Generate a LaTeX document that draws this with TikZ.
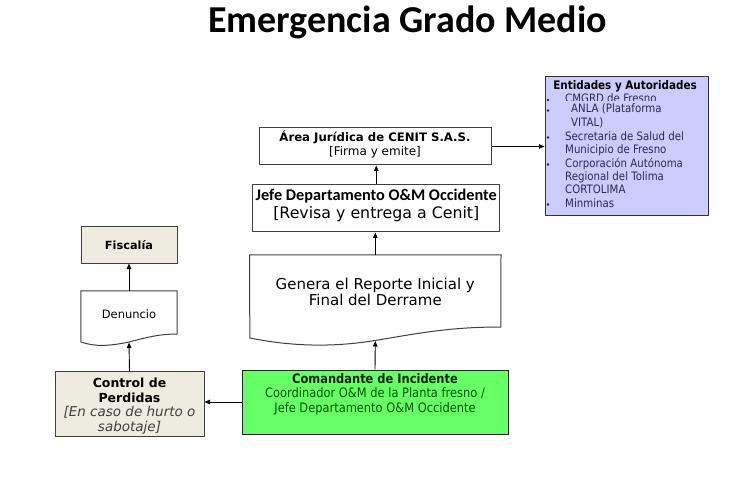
\documentclass[tikz,border=0pt]{standalone}
\usepackage{fontspec}
\setmainfont{DejaVu Sans}
\newfontfamily\tahfont{DejaVu Sans}[FakeStretch=0.88]
\newfontfamily\calfont{Carlito}
\usetikzlibrary{arrows.meta}
\definecolor{entfill}{HTML}{CCCCFF}
\definecolor{grfill}{HTML}{66FF66}
\definecolor{beige}{HTML}{EEECE1}
\definecolor{frame}{HTML}{404040}
\definecolor{listc}{HTML}{2A2A55}
\definecolor{grtxt}{HTML}{005500}
\definecolor{grhead}{HTML}{002200}
\definecolor{ittxt}{HTML}{404040}
\begin{document}
\begin{tikzpicture}[x=1pt,y=-1pt,
  box/.style={draw=frame, line width=1pt, inner sep=0pt},
  plain/.style={inner sep=0pt},
  txt/.style={inner sep=0pt, align=center},
  arr/.style={-{Triangle[length=5.5pt,width=4.5pt]}, line width=0.9pt, black},
  item/.style={inner sep=0pt, anchor=base west, text=listc, font=\tahfont\fontsize{11.6}{13}\selectfont},
  bul/.style={fill=listc}]
\useasboundingbox (0,0) rectangle (746,486);

% title
\node[plain, anchor=base] (title) at (407.5,33) {\calfont\bfseries\fontsize{38}{40}\selectfont Emergencia Grado Medio};

% boxes
\node[box, fill=entfill, draw=black!80, minimum width=163pt, minimum height=139pt] (ent) at (626.5,146.5) {};
\node[box, fill=white, minimum width=232pt, minimum height=37pt] (area) at (375,146.5) {};
\node[box, fill=white, minimum width=247pt, minimum height=47pt] (jefe) at (376.3,208.5) {};
\node[plain, minimum width=251pt, minimum height=70pt] (genera) at (375.3,290) {};
\draw[frame, line width=1pt, fill=white] (genera.north west) -- (genera.north east) -- (500.8,327)
  .. controls (450,327) and (420,333) .. (375,340.5)
  .. controls (335,347) and (295,347) .. (249.8,338) -- cycle;
\coordinate (gb) at (375.3,341);
\node[box, fill=grfill, draw=black!85, minimum width=266pt, minimum height=64pt] (cmd) at (375,402) {};
\node[box, fill=beige, minimum width=149pt, minimum height=65pt] (ctrl) at (129.5,404.3) {};
\node[box, fill=beige, minimum width=96pt, minimum height=36pt] (fisc) at (129,245) {};
\node[plain, minimum width=96pt, minimum height=44pt] (den) at (129,313) {};
\draw[frame, line width=1pt, fill=white] (den.north west) -- (den.north east) -- (177,334)
  .. controls (160,334) and (148,337) .. (129,342)
  .. controls (110,346) and (95,347) .. (81,342) -- cycle;
\coordinate (db) at (129,342.5);

% connectors
\draw[arr] (cmd.north) -- (gb);
\draw[arr] (genera.north) -- (genera.north |- jefe.south);
\draw[arr] (jefe.north) -- (jefe.north |- area.south);
\draw[arr] (area.east) -- (area.east -| ent.west);
\draw[arr] (cmd.west) -- (cmd.west -| ctrl.east);
\draw[arr] (ctrl.north) -- (db);
\draw[arr] (den.north) -- (den.north |- fisc.south);

% texts
\node[txt, font=\fontsize{12}{14}\selectfont] (areat) at (375,144.5)
  {{\bfseries\fontsize{11.7}{14}\selectfont Área Jurídica de CENIT S.A.S.}\\{[Firma y emite]}};
\node[txt, font=\fontsize{15.8}{18}\selectfont] (jefet) at (376.3,205)
  {{\calfont\bfseries\fontsize{16.3}{18}\selectfont Jefe Departamento O\&M Occidente}\\{[Revisa y entrega a Cenit]}};
\node[txt, font=\fontsize{15}{16.5}\selectfont] (generat) at (375.3,292)
  {Genera el Reporte Inicial y\\Final del Derrame};
\node[txt, font=\tahfont\fontsize{13}{14.5}\selectfont, text=grtxt] (cmdt) at (375,394)
  {{\bfseries\color{grhead}Comandante de Incidente}\\Coordinador O\&M de la Planta fresno /\\Jefe Departamento O\&M Occidente};
\node[txt, font=\fontsize{12.5}{14.5}\selectfont] (ctrlt) at (129.5,406)
  {{\bfseries Control de}\\{\bfseries Perdidas}\\{\color{ittxt}\itshape\fontsize{13.5}{14.5}\selectfont [En caso de hurto o}\\{\color{ittxt}\itshape\fontsize{13.5}{14.5}\selectfont sabotaje]}};
\node[txt, font=\bfseries\fontsize{11.3}{13}\selectfont] (fisct) at (129,245) {Fiscalía};
\node[txt, font=\fontsize{11.5}{13}\selectfont] (dent) at (129,314) {Denuncio};

% Entidades list
\node[plain, anchor=base, font=\tahfont\bfseries\fontsize{11.8}{13}\selectfont] (enth) at (625,90) {Entidades y Autoridades};
\begin{scope}
  \clip (546,92) rectangle (707,100.5);
  \node[item] (e1) at (565,102.5) {CMGRD de Fresno};
\end{scope}
\fill[bul] (548,100) circle (1.4pt);
\node[item] (e2) at (571,113) {ANLA (Plataforma};
\fill[bul] (548,110.5) circle (1.4pt);
\node[item] (e3) at (571,126.5) {VITAL)};
\node[item] (e4) at (565,140.5) {Secretaria de Salud del};
\fill[bul] (548,137.5) circle (1.4pt);
\node[item] (e5) at (565,154) {Municipio de Fresno};
\node[item] (e6) at (565,167.5) {Corporación Autónoma};
\fill[bul] (548,164.5) circle (1.4pt);
\node[item] (e7) at (565,181) {Regional del Tolima};
\node[item] (e8) at (565,194) {CORTOLIMA};
\node[item] (e9) at (565,207.5) {Minminas};
\fill[bul] (548,204.5) circle (1.4pt);
\end{tikzpicture}
\end{document}
